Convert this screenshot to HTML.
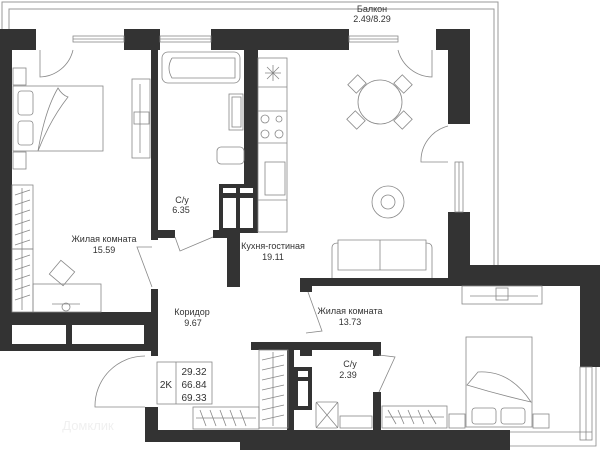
<!DOCTYPE html>
<html><head><meta charset="utf-8"><style>
html,body{margin:0;padding:0;background:#fff;}
svg{display:block;}
text{font-family:"Liberation Sans",sans-serif;font-size:9px;fill:#333;text-anchor:middle;}
</style></head><body>
<svg width="600" height="450" viewBox="0 0 600 450" xmlns="http://www.w3.org/2000/svg">
<g fill="none" stroke="#999" stroke-width="1">
<!-- balcony -->
<path d="M2,29 V2 H498 V266"/>
<path d="M9,29 V9 H494 V266"/>
</g>
<g fill="#333">
<!-- top wall -->
<rect x="0" y="29" width="36" height="21"/>
<rect x="124" y="29" width="36" height="21"/>
<rect x="211" y="29" width="138" height="21"/>
<rect x="436" y="29" width="34" height="21"/>
<rect x="448" y="29" width="22" height="95"/>
<rect x="448" y="212" width="22" height="74"/>
<!-- left wall -->
<rect x="0" y="29" width="12" height="322"/>
<rect x="0" y="312" width="158" height="39"/>
<!-- partition left room / SU1 -->
<rect x="151" y="50" width="7" height="190"/>
<rect x="151" y="230" width="24" height="8"/>
<rect x="151" y="289" width="7" height="67"/>
<!-- kitchen partition -->
<rect x="244" y="50" width="14" height="140"/>
<rect x="219" y="184" width="39" height="49"/>
<rect x="213" y="230" width="14" height="8"/>
<rect x="227" y="233" width="13" height="54"/>
<!-- kitchen bottom wall / bedroom top -->
<rect x="300" y="278" width="170" height="8"/>
<rect x="300" y="278" width="12" height="14"/>
<rect x="470" y="265" width="130" height="21"/>
<rect x="580" y="265" width="20" height="102"/>
<!-- corridor/SU2 -->
<rect x="251" y="342" width="130" height="8"/>
<rect x="300" y="342" width="12" height="14"/>
<rect x="373" y="342" width="8" height="14"/>
<rect x="287" y="350" width="7" height="80"/>
<rect x="373" y="392" width="8" height="38"/>
<rect x="294" y="367" width="18" height="43"/>
<!-- bottom walls -->
<rect x="145" y="407" width="13" height="35"/>
<rect x="145" y="430" width="365" height="12"/>
<rect x="240" y="430" width="270" height="20"/>
</g>
<g fill="#fff">
<rect x="12" y="325" width="54" height="19"/>
<rect x="72" y="325" width="72" height="19"/>
<rect x="223" y="188" width="13" height="5"/>
<rect x="240" y="188" width="13" height="5"/>
<rect x="223" y="198" width="13" height="30"/>
<rect x="240" y="198" width="13" height="30"/>
<rect x="298" y="371" width="10" height="6"/>
<rect x="298" y="381" width="10" height="25"/>
</g>
<g fill="none" stroke="#888" stroke-width="0.8">
<!-- windows -->
<rect x="73" y="36" width="51" height="6"/><line x1="73" y1="39" x2="124" y2="39"/>
<rect x="160" y="36" width="51" height="6"/><line x1="160" y1="39" x2="211" y2="39"/>
<rect x="349" y="36" width="49" height="6"/><line x1="349" y1="39" x2="398" y2="39"/>
<rect x="455" y="162" width="8" height="50"/><line x1="459" y1="162" x2="459" y2="212"/>
<rect x="580" y="367" width="12" height="73"/><line x1="586" y1="367" x2="586" y2="440"/>
<path d="M510,432 H592 M510,446 H596 V367"/>
<!-- doors -->
<path d="M40,50 V77 A35,35 0 0 0 73,50"/>
<path d="M432,50 V77 A36,36 0 0 1 398,50"/>
<path d="M448,162 H421 A36,36 0 0 1 448,126"/>
<path d="M145,356 A50,50 0 0 0 95,407 H145"/>
<path d="M152,247 L137,247 L152,287"/>
<path d="M175,237 L180,251 L213,237"/>
<path d="M308,292 L322,331 L306,333"/>
<path d="M379,355 L395,357 L379,392"/>
<!-- left bedroom -->
<rect x="13" y="86" width="90" height="65"/>
<rect x="18" y="91" width="15" height="24" rx="3"/><rect x="18" y="121" width="15" height="24" rx="3"/>
<path d="M38,151 Q45,110 58,88 Q62,95 68,97 Q50,120 38,151"/>
<rect x="13" y="68" width="13" height="17"/><rect x="13" y="152" width="13" height="17"/>
<rect x="132" y="79" width="18" height="79"/><line x1="140" y1="84" x2="140" y2="153"/>
<rect x="134" y="112" width="15" height="12"/>
<rect x="12" y="185" width="21" height="64"/><rect x="12" y="249" width="21" height="63"/>
<path d="M15,195 L30,190 M15,205 L30,200 M15,215 L30,210 M15,225 L30,220 M15,235 L30,230 M15,245 L30,240 M15,260 L30,255 M15,270 L30,265 M15,280 L30,275 M15,290 L30,285 M15,300 L30,295 M22,188 V310"/>
<rect x="33" y="284" width="68" height="28"/>
<rect x="53" y="264" width="18" height="18" transform="rotate(40 62 273)"/>
<line x1="52" y1="304" x2="80" y2="304"/><circle cx="66" cy="307" r="4"/>
<!-- SU1 -->
<rect x="162" y="52" width="78" height="31" rx="6"/>
<path d="M172,58 H235 V78 H172 Q166,68 172,58"/>
<rect x="229" y="94" width="14" height="36"/><rect x="232" y="97" width="9" height="30"/>
<rect x="217" y="147" width="27" height="17" rx="4"/>
<!-- kitchen counter -->
<rect x="258" y="58" width="29" height="174"/>
<path d="M258,87 H287 M258,111 H287 M258,143 H287 M258,200 H287"/>
<circle cx="265" cy="119" r="4"/><circle cx="279" cy="119" r="3"/><circle cx="265" cy="134" r="4"/><circle cx="279" cy="134" r="4"/>
<rect x="265" y="162" width="20" height="33"/>
<path d="M267,67 L279,79 M279,67 L267,79 M273,65 V81 M265,73 H281"/>
<!-- table -->
<circle cx="380" cy="102" r="22"/>
<rect x="350" y="78" width="14" height="12" transform="rotate(-45 357 84)"/>
<rect x="396" y="78" width="14" height="12" transform="rotate(45 403 84)"/>
<rect x="349" y="114" width="14" height="12" transform="rotate(45 356 120)"/>
<rect x="396" y="114" width="14" height="12" transform="rotate(-45 403 120)"/>
<circle cx="388" cy="202" r="16"/><circle cx="388" cy="202" r="7"/>
<!-- sofa -->
<path d="M332,278 V248 Q332,243 338,243 V240 H426 V243 Q432,243 432,248 V278"/>
<path d="M338,243 V270 H426 V243 M380,240 V270"/>
<!-- right bedroom -->
<rect x="462" y="286" width="80" height="18"/><line x1="470" y1="296" x2="538" y2="296"/><rect x="496" y="288" width="12" height="12"/>
<rect x="466" y="337" width="66" height="90"/>
<rect x="472" y="408" width="24" height="16" rx="3"/><rect x="501" y="408" width="24" height="16" rx="3"/>
<path d="M467,385 Q500,395 531,402 Q510,370 478,372 Z"/>
<rect x="449" y="414" width="16" height="14"/><rect x="533" y="414" width="16" height="14"/>
<rect x="382" y="406" width="65" height="22"/><path d="M385,417 H444 M388,410 L396,424 M398,410 L404,424 M408,410 L414,424 M418,410 L424,424 M428,410 L436,424"/>
<!-- closets -->
<rect x="259" y="350" width="29" height="78"/>
<path d="M262,360 L284,355 M262,370 L284,365 M262,380 L284,375 M262,390 L284,385 M262,400 L284,395 M262,410 L284,405 M262,420 L284,415 M273,352 V426"/>
<rect x="193" y="407" width="66" height="22"/>
<path d="M196,418 H256 M200,410 L206,426 M210,410 L216,426 M220,410 L226,426 M230,410 L236,426 M240,410 L246,426"/>
<!-- SU2 -->
<rect x="316" y="402" width="22" height="26" rx="2"/><path d="M316,402 L338,428 M338,402 L316,428"/>
<rect x="340" y="416" width="32" height="12"/>
<!-- info box -->
<rect x="157" y="362" width="55" height="42"/><line x1="176" y1="362" x2="176" y2="404"/>
</g>
<text x="372" y="12">Балкон</text>
<text x="372" y="22">2.49/8.29</text>
<text x="182" y="203">С/у</text>
<text x="181" y="213">6.35</text>
<text x="104" y="242">Жилая комната</text>
<text x="104" y="253">15.59</text>
<text x="273" y="249">Кухня-гостиная</text>
<text x="273" y="260">19.11</text>
<text x="192" y="315">Коридор</text>
<text x="193" y="326">9.67</text>
<text x="350" y="314">Жилая комната</text>
<text x="350" y="325">13.73</text>
<text x="350" y="367">С/у</text>
<text x="348" y="378">2.39</text>
<text x="166" y="388" style="font-size:10px">2K</text>
<text x="194" y="375" style="font-size:10px">29.32</text>
<text x="194" y="388" style="font-size:10px">66.84</text>
<text x="194" y="401" style="font-size:10px">69.33</text>
<text x="88" y="430" style="font-size:13px;fill:#f0f0f0">Домклик</text>
</svg>
</body></html>
